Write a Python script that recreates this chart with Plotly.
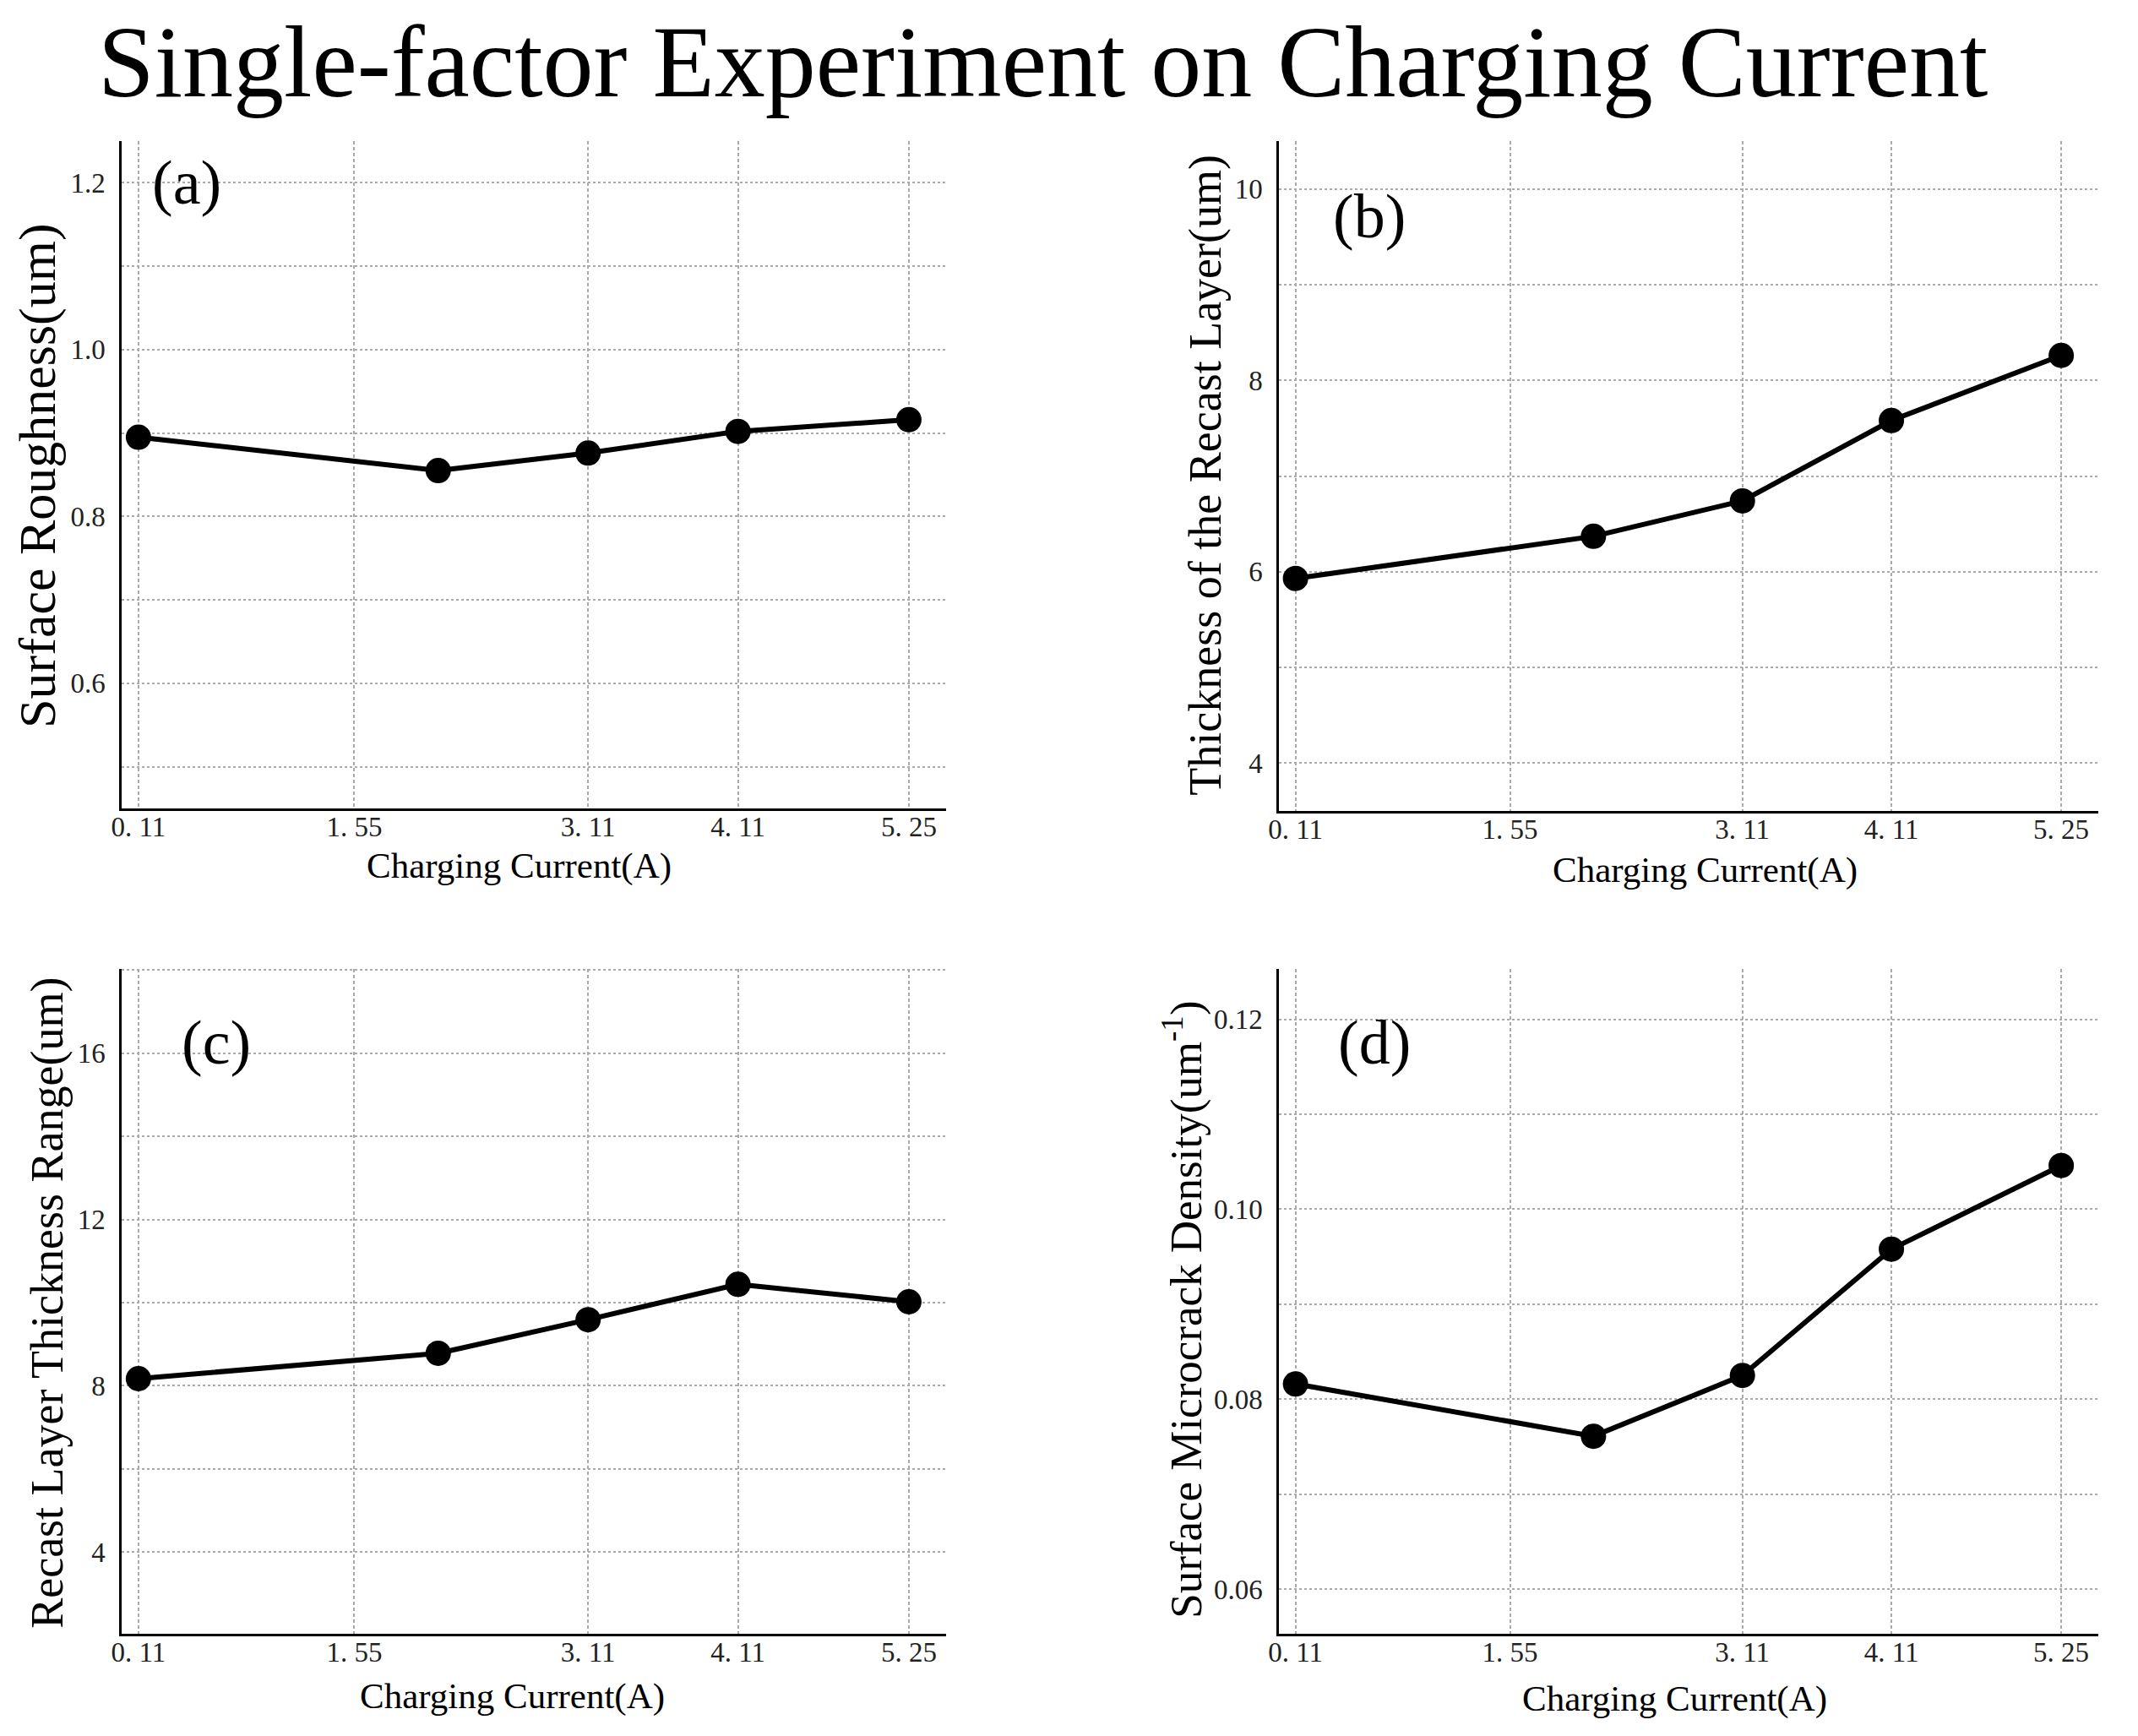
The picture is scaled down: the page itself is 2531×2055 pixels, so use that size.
import plotly.graph_objects as go

# ---- data ----
charging_current = [0.11, 2.11, 3.11, 4.11, 5.25]
tick_vals = [0.11, 1.55, 3.11, 4.11, 5.25]
tick_text = ["0. 11", "1. 55", "3. 11", "4. 11", "5. 25"]

surface_roughness = [0.895, 0.855, 0.876, 0.902, 0.916]
recast_thickness = [5.93, 6.37, 6.74, 7.58, 8.26]
recast_range = [8.17, 8.78, 9.59, 10.44, 10.02]
microcrack_density = [0.0816, 0.0761, 0.0825, 0.0958, 0.1046]

OFFX, OFFY = 19, 8
W, H = 2515, 2039
FONT = "Liberation Serif"

def px(x):
    return (x - OFFX) / W

def py(y):
    return 1 - (y - OFFY) / H

fig = go.Figure()

panels = [
    (surface_roughness, (143, 1124), (167, 957), [0.45, 1.25], 0.2, 0.1),
    (recast_thickness, (1520, 2495), (167, 960), [3.5, 10.5], 2, 1),
    (recast_range, (143, 1124), (1147, 1934), [2.03, 18.03], 4, 2),
    (microcrack_density, (1520, 2495), (1147, 1934), [0.0553, 0.1253], 0.02, 0.01),
]

for i, (vals, xd, yd, yr, dt, mdt) in enumerate(panels):
    n = "" if i == 0 else str(i + 1)
    fig.add_trace(go.Scatter(
        x=charging_current, y=vals, mode="lines+markers",
        line=dict(color="black", width=6),
        marker=dict(color="black", size=30),
        xaxis="x" + n, yaxis="y" + n, showlegend=False,
    ))
    fig.layout["xaxis" + n] = dict(
        domain=[px(xd[0]), px(xd[1])], range=[0, 5.5], anchor="y" + n,
        tickmode="array", tickvals=tick_vals, ticktext=tick_text,
        showline=True, linecolor="black", linewidth=3, mirror=False,
        showgrid=True, gridcolor="#aaaaaa", gridwidth=1.5, griddash="4px,3px",
        zeroline=False, ticks="", ticklabelstandoff=-10,
        tickfont=dict(family=FONT, size=33, color="#222"),
    )
    fig.layout["yaxis" + n] = dict(
        domain=[py(yd[1]), py(yd[0])], range=yr, anchor="x" + n,
        dtick=dt, tick0=0,
        showline=True, linecolor="black", linewidth=3, mirror=False,
        showgrid=True, gridcolor="#aaaaaa", gridwidth=1.5, griddash="dot",
        minor=dict(dtick=mdt, tick0=0, showgrid=True, gridcolor="#aaaaaa",
                   gridwidth=1.5, griddash="dot"),
        zeroline=False, ticks="", ticklabelstandoff=10,
        tickformat=".2f" if i == 3 else (".1f" if i == 0 else "d"),
        tickfont=dict(family=FONT, size=33, color="#222"),
    )

annos = []

def add(text, x, y, size, angle=0):
    annos.append(dict(text=text, x=px(x), y=py(y), xref="paper", yref="paper",
                      xanchor="center", yanchor="middle", textangle=angle,
                      showarrow=False, font=dict(family=FONT, size=size, color="black")))

# panel labels
for lab, (x, y) in zip(["(a)", "(b)", "(c)", "(d)"],
                       [(220, 216), (1627, 256), (255, 1234), (1633, 1234)]):
    add(lab, x, y, 74)

# y axis titles
add("Surface Roughness(um)", 42, 563, 62, -90)
add("Thickness of the Recast Layer(um)", 1432, 562, 54, -90)
add("Recast Layer Thickness Range(um)", 54, 1542, 54, -90)
add("Surface Microcrack Density(um<sup>-1</sup>)", 1405, 1550, 53, -90)

# x axis titles
for (x, y) in [(616, 1025), (2027, 1030), (608, 2008), (1991, 2011)]:
    add("Charging Current(A)", x, y, 43)

# main title
add("Single-factor Experiment on Charging Current", 1239, 73, 120)

fig.update_layout(
    width=W, height=H, margin=dict(l=0, r=0, t=0, b=0),
    paper_bgcolor="white", plot_bgcolor="white",
    annotations=annos,
)

fig.write_html("out.html")
